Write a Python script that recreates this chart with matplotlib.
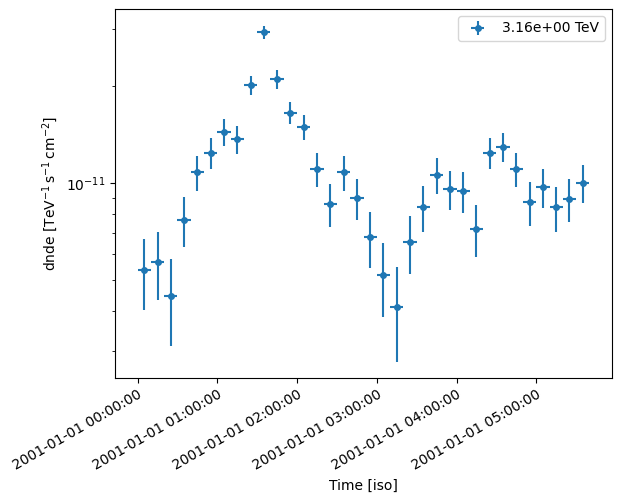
import datetime
import numpy as np
import matplotlib
matplotlib.use("Agg")
import matplotlib.pyplot as plt
import matplotlib.dates as mdates
from matplotlib.ticker import NullFormatter

# 10 minute bins starting at 2001-01-01 00:00:00
t_start = datetime.datetime(2001, 1, 1, 0, 0, 0)
bin_minutes = 10
n_bins = 34

# dnde in units of 1e-11 TeV-1 s-1 cm-2
dnde = [0.537, 0.568, 0.446, 0.768, 1.082, 1.239, 1.440, 1.370, 2.015, 2.938,
        2.104, 1.653, 1.492, 1.105, 0.862, 1.080, 0.898, 0.680, 0.518, 0.413,
        0.656, 0.842, 1.059, 0.958, 0.944, 0.721, 1.239, 1.296, 1.105, 0.871,
        0.972, 0.840, 0.892, 1.002]
dnde_err = [0.134, 0.135, 0.135, 0.134, 0.135, 0.137, 0.138, 0.136, 0.135, 0.134,
            0.140, 0.129, 0.131, 0.132, 0.133, 0.135, 0.133, 0.134, 0.134, 0.135,
            0.134, 0.136, 0.134, 0.132, 0.136, 0.132, 0.137, 0.133, 0.132, 0.135,
            0.133, 0.134, 0.135, 0.134]
energy_label = "3.16e+00 TeV"

centers = [t_start + datetime.timedelta(minutes=bin_minutes * (i + 0.5)) for i in range(n_bins)]
x = mdates.date2num(centers)
xerr = bin_minutes / 2 / 1440.0
y = np.array(dnde) * 1e-11
yerr = np.array(dnde_err) * 1e-11

fig = plt.figure(figsize=(6.21, 5.04), dpi=100)
ax = fig.add_axes([115 / 621, 126 / 504, 497 / 621, 369 / 504])

ax.errorbar(x, y, xerr=xerr, yerr=yerr, marker="o", markersize=4, ls="None",
            color="tab:blue", label=energy_label)

ax.set_yscale("log")
ax.set_ylim(2.48e-12, 3.47e-11)
ax.yaxis.set_minor_formatter(NullFormatter())

ax.xaxis.set_major_locator(mdates.HourLocator())
ax.xaxis.set_major_formatter(mdates.DateFormatter("%Y-%m-%d %H:%M:%S"))
plt.setp(ax.get_xticklabels(), rotation=30, ha="right", rotation_mode="anchor")

ax.set_xlabel("Time [iso]")
ax.set_ylabel(r"dnde [$\mathrm{TeV^{-1}\,s^{-1}\,cm^{-2}}$]")
ax.legend(loc="upper right")

fig.savefig("out.png", dpi=100)
